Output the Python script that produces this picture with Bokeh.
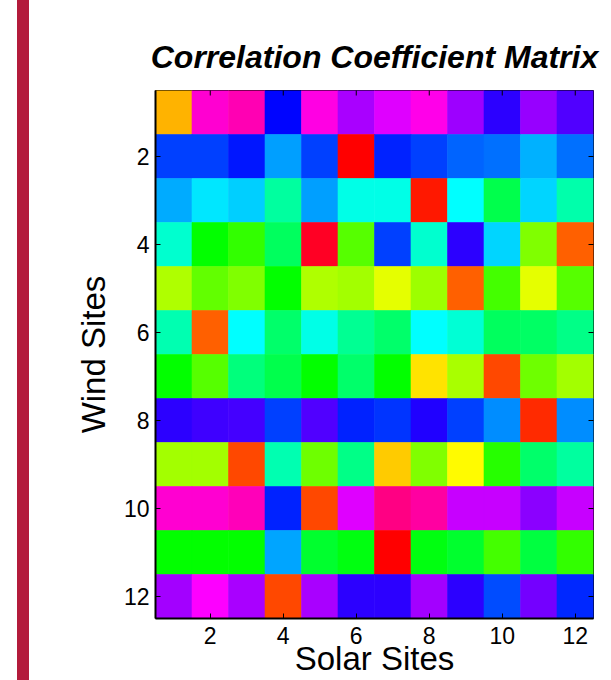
import colorsys
import math

from bokeh.embed import file_html
from bokeh.layouts import row
from bokeh.models import (ColumnDataSource, Div, FixedTicker,
                          LinearColorMapper, Range1d, Spacer)
from bokeh.plotting import figure
from bokeh.resources import INLINE
from bokeh.transform import transform

# Site indices
wind_sites = list(range(1, 13))
solar_sites = list(range(1, 13))
tick_values = [2, 4, 6, 8, 10, 12]

# Coefficient matrix on the colormap's 0..1 scale (rows: wind, cols: solar)
wind_01 = [0.120, 0.864, 0.885, 0.667, 0.853, 0.780, 0.813, 0.848, 0.771, 0.698, 0.766, 0.719]
wind_02 = [0.625, 0.625, 0.656, 0.565, 0.625, 0.000, 0.646, 0.625, 0.604, 0.594, 0.552, 0.594]
wind_03 = [0.557, 0.518, 0.534, 0.438, 0.565, 0.485, 0.485, 0.016, 0.500, 0.386, 0.531, 0.448]
wind_04 = [0.470, 0.333, 0.302, 0.396, 0.979, 0.281, 0.625, 0.470, 0.698, 0.531, 0.250, 0.063]
wind_05 = [0.219, 0.270, 0.250, 0.333, 0.219, 0.228, 0.186, 0.231, 0.063, 0.292, 0.186, 0.281]
wind_06 = [0.453, 0.063, 0.500, 0.406, 0.485, 0.433, 0.406, 0.500, 0.475, 0.396, 0.400, 0.422]
wind_07 = [0.333, 0.281, 0.417, 0.386, 0.333, 0.406, 0.335, 0.152, 0.223, 0.047, 0.263, 0.228]
wind_08 = [0.698, 0.708, 0.714, 0.625, 0.719, 0.646, 0.635, 0.688, 0.625, 0.578, 0.031, 0.578]
wind_09 = [0.228, 0.228, 0.047, 0.453, 0.265, 0.422, 0.136, 0.250, 0.167, 0.311, 0.406, 0.438]
wind_10 = [0.864, 0.864, 0.880, 0.646, 0.047, 0.813, 0.917, 0.895, 0.797, 0.797, 0.761, 0.797]
wind_11 = [0.333, 0.333, 0.333, 0.562, 0.365, 0.344, 0.000, 0.344, 0.365, 0.292, 0.375, 0.302]
wind_12 = [0.776, 0.833, 0.781, 0.047, 0.781, 0.698, 0.698, 0.776, 0.698, 0.620, 0.745, 0.641]
coef = [wind_01, wind_02, wind_03, wind_04, wind_05, wind_06,
        wind_07, wind_08, wind_09, wind_10, wind_11, wind_12]

# HSV colormap (full hue circle, like MATLAB's hsv)
palette = []
for i in range(256):
    r, g, b = colorsys.hsv_to_rgb(i / 256.0, 1.0, 1.0)
    palette.append("#%02x%02x%02x" % (int(round(r * 255)), int(round(g * 255)), int(round(b * 255))))
mapper = LinearColorMapper(palette=palette, low=0.0, high=1.0)

xs, ys, vs = [], [], []
for i, w in enumerate(wind_sites):
    for j, s in enumerate(solar_sites):
        xs.append(s)
        ys.append(w)
        vs.append(coef[i][j])
source = ColumnDataSource(dict(solar=xs, wind=ys, coef=vs))

FONT = "Liberation Sans"
x_lo, x_hi = 0.5, len(solar_sites) + 0.5
y_lo, y_hi = 0.5, len(wind_sites) + 0.5

p = figure(width=582, height=680,
           x_range=Range1d(x_lo, x_hi), y_range=Range1d(y_hi, y_lo),
           output_backend="svg", toolbar_location=None,
           min_border_left=126, min_border_right=18,
           min_border_top=90, min_border_bottom=62,
           background_fill_color="white", border_fill_color="white")

p.rect(x="solar", y="wind", width=1, height=1, source=source,
       fill_color=transform("coef", mapper),
       line_color=transform("coef", mapper), line_width=0.6)

p.grid.visible = False
p.outline_line_color = "black"
p.outline_line_width = 1

p.title.text = "Correlation Coefficient Matrix"
p.title.align = "center"
p.title.text_font = FONT
p.title.text_font_style = "bold italic"
p.title.text_font_size = "32px"
p.title.text_color = "black"
p.title.standoff = 32


def style_axis(ax, label, label_standoff, axis_label_standoff):
    ax.ticker = FixedTicker(ticks=tick_values)
    ax.axis_label = label
    ax.axis_label_text_font = FONT
    ax.axis_label_text_font_size = "33px"
    ax.axis_label_text_font_style = "normal"
    ax.axis_label_text_color = "black"
    ax.axis_label_standoff = axis_label_standoff
    ax.major_label_text_font = FONT
    ax.major_label_text_font_size = "23px"
    ax.major_label_text_color = "black"
    ax.major_label_standoff = label_standoff
    ax.major_tick_in = 5
    ax.major_tick_out = 0
    ax.major_tick_line_color = "black"
    ax.minor_tick_line_color = None
    ax.axis_line_color = "black"
    ax.axis_line_width = 2


style_axis(p.xaxis[0], "Solar Sites", 8, -7)
style_axis(p.yaxis[0], "Wind Sites", 6, 9)

# Inward tick marks along the top and right edges of the box
tick_src_top = ColumnDataSource(dict(x=tick_values, y=[y_lo] * len(tick_values)))
tick_src_right = ColumnDataSource(dict(x=[x_hi] * len(tick_values), y=tick_values))
p.scatter(x="x", y="y", source=tick_src_top, marker="dash", size=10,
          angle=math.pi / 2, line_color="black", line_width=1)
p.scatter(x="x", y="y", source=tick_src_right, marker="dash", size=10,
          angle=0, line_color="black", line_width=1)

gap = Spacer(width=17, height=680, margin=0)
bar = Div(text="", width=12, height=680, margin=0,
          styles={"background-color": "#B31B3B"})

layout = row(gap, bar, p, spacing=0)

open("out.html", "w").write(file_html(layout, INLINE))
